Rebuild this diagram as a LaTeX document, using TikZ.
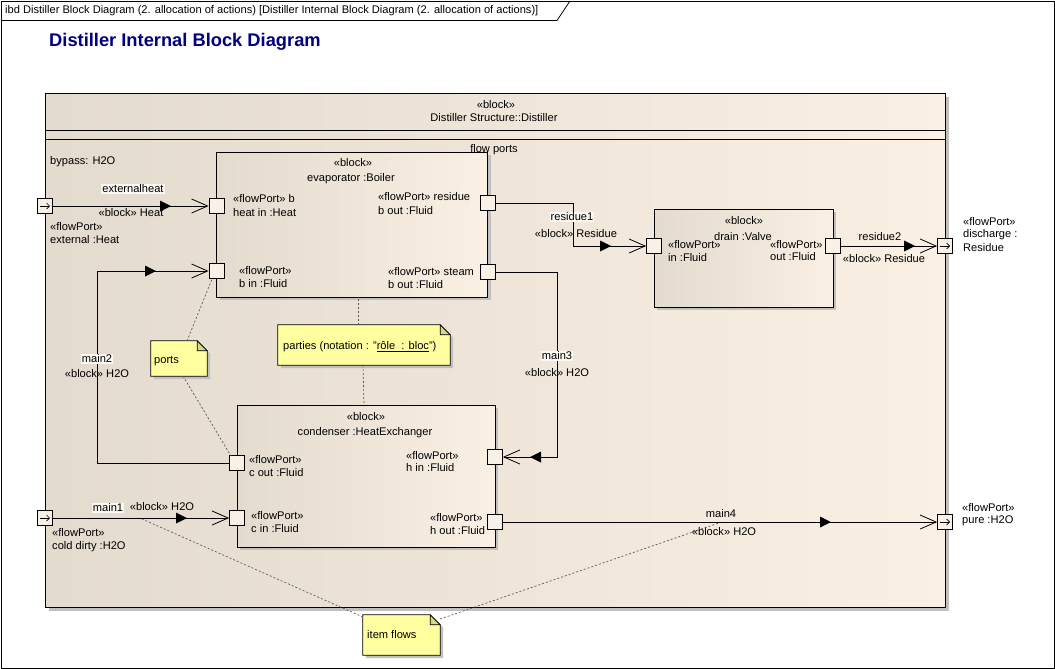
\documentclass[tikz,border=0pt]{standalone}
\usepackage{fontspec}
\setmainfont{Liberation Sans}
\usetikzlibrary{arrows.meta,calc}
\definecolor{blkL}{RGB}{227,219,206}
\definecolor{blkR}{RGB}{250,240,227}
\definecolor{shadowc}{RGB}{192,192,192}
\definecolor{portc}{RGB}{247,241,231}
\definecolor{notec}{RGB}{255,255,160}
\definecolor{foldc}{RGB}{214,214,140}
\definecolor{titlec}{RGB}{0,0,128}
\definecolor{lblbg}{RGB}{252,249,243}
\definecolor{dashc}{RGB}{90,90,90}
\begin{document}
\begin{tikzpicture}[x=1pt,y=-1pt,
  txt/.style={font=\fontsize{11.1}{12}\selectfont, inner sep=0pt, anchor=west},
  ctxt/.style={font=\fontsize{11.1}{12}\selectfont, inner sep=0pt},
  namelbl/.style={ctxt, fill=lblbg, inner sep=1pt},
  blockbox/.style={draw, line width=0.8pt, left color=blkL, right color=blkR, inner sep=0pt},
  port/.style={draw, fill=portc, minimum size=15pt, inner sep=0pt, line width=0.8pt},
  flow/.style={line width=0.8pt, -{Straight Barb[length=16pt,width=14pt]}},
  notelink/.style={dashc, line width=0.7pt, dash pattern=on 2pt off 2pt},
  notebox/.style={inner sep=0pt},
  fltri/.pic={\fill (-11,-5.5) -- (0,0) -- (-11,5.5) -- cycle;}
]
\useasboundingbox (0,0) rectangle (1055,669);
\fill[white] (0,0) rectangle (1055,669);
% frame and tab
\draw[line width=0.8pt] (1,1) rectangle (1054,668);
\draw[line width=0.8pt] (1,20.5) -- (557,20.5) -- (570,1);
\node[txt] (tab) at (5,11) {ibd Distiller Block Diagram (2. allocation of actions) [Distiller Internal Block Diagram (2. allocation of actions)]};
\node[anchor=west, inner sep=0pt, font=\fontsize{18.3}{20}\selectfont\bfseries, text=titlec] (title) at (49,42) {Distiller Internal Block Diagram};

% Distiller block
\fill[shadowc] (49,97) rectangle (949,611);
\node[blockbox, minimum width=900pt, minimum height=514pt] (distiller) at (495,350) {};
\draw[line width=0.8pt] (45,130) -- (945,130);
\draw[line width=0.8pt] (45,139) -- (945,139);
\node[ctxt] (dst1) at (496,105) {«block»};
\node[ctxt] (dst2) at (494,118) {Distiller Structure::Distiller};
\node[txt] (bypass) at (50,162) {bypass: H2O};

% Boiler
\fill[shadowc] (220,155) rectangle (491,300);
\node[blockbox, minimum width=271pt, minimum height=145pt] (boiler) at (352,224.5) {};
\node[ctxt] (flowports) at (494,150) {flow ports};
\node[ctxt] (boi1) at (353,163) {«block»};
\node[ctxt] (boi2) at (351,179) {evaporator :Boiler};
\node[txt] (t1) at (233,199) {«flowPort» b};
\node[txt] (t2) at (233,213) {heat in :Heat};
\node[txt] (t3) at (378,197) {«flowPort» residue};
\node[txt] (t4) at (378,211) {b out :Fluid};
\node[txt] (t5) at (239,271) {«flowPort»};
\node[txt] (t6) at (239,284) {b in :Fluid};
\node[txt] (t7) at (388,272) {«flowPort» steam};
\node[txt] (t8) at (388,285) {b out :Fluid};

% Valve
\fill[shadowc] (657,212) rectangle (836,310);
\node[blockbox, minimum width=179pt, minimum height=98pt] (valve) at (743.5,258) {};
\node[ctxt] (val1) at (744,221) {«block»};
\node[ctxt] (val2) at (743,237) {drain :Valve};
\node[txt] (t9) at (668,245) {«flowPort»};
\node[txt] (t10) at (668,258) {in :Fluid};
\node[txt] (t11) at (770,245) {«flowPort»};
\node[txt] (t12) at (770,257) {out :Fluid};

% Condenser
\fill[shadowc] (240,408) rectangle (498,550);
\node[blockbox, minimum width=258pt, minimum height=142pt] (condenser) at (366,476) {};
\node[ctxt] (con1) at (366,417) {«block»};
\node[ctxt] (con2) at (365,433) {condenser :HeatExchanger};
\node[txt] (t13) at (249,460) {«flowPort»};
\node[txt] (t14) at (249,473) {c out :Fluid};
\node[txt] (t15) at (251,516) {«flowPort»};
\node[txt] (t16) at (251,529) {c in :Fluid};
\node[txt] (t17) at (406,456) {«flowPort»};
\node[txt] (t18) at (406,468) {h in :Fluid};
\node[txt] (t19) at (430,518) {«flowPort»};
\node[txt] (t20) at (430,531) {h out :Fluid};

% outer port labels
\node[txt] (t21) at (50,227) {«flowPort»};
\node[txt] (t22) at (50,240) {external :Heat};
\node[txt] (t23) at (52,533) {«flowPort»};
\node[txt] (t24) at (52,547) {cold dirty :H2O};
\node[txt] (t25) at (963,222) {«flowPort»};
\node[txt] (t26) at (963,235) {discharge :};
\node[txt] (t27) at (963,248) {Residue};
\node[txt] (t28) at (962,508) {«flowPort»};
\node[txt] (t29) at (962,521) {pure :H2O};

% ports
\node[port] (pExt) at (45,206) {};
\node[port] (pCold) at (45,518) {};
\node[port] (pDis) at (945,246) {};
\node[port] (pPure) at (945,522) {};
\node[port] (pHeatIn) at (216.5,206) {};
\node[port] (pBin) at (216.5,271) {};
\node[port] (pRes) at (487.5,203) {};
\node[port] (pSteam) at (487.5,272) {};
\node[port] (pVin) at (654,246) {};
\node[port] (pVout) at (833,246) {};
\node[port] (pCout) at (237,463) {};
\node[port] (pCin) at (237,518) {};
\node[port] (pHin) at (495,457) {};
\node[port] (pHout) at (495,522) {};
\foreach \p in {pExt,pCold,pDis,pPure}
  \draw[line width=0.7pt, -{Straight Barb[length=3pt,width=6pt]}] (\p.center) ++(-5,0) -- ++(10,0);

% bend points
\coordinate (m2) at (97,271);
\coordinate (r1) at (573,246);
\coordinate (m3) at (557,457);

% item flows (connectors)
\draw[flow] (pExt.east) -- (pHeatIn.west);
\draw[flow] (pCout.west) -| (m2) -- (pBin.west);
\draw[flow] (pRes.east) -| (r1) -- (pVin.west);
\draw[flow] (pVout.east) -- (pDis.west);
\draw[flow] (pSteam.east) -| (m3) -- (pHin.east);
\draw[flow] (pCold.east) -- (pCin.west);
\draw[flow] (pHout.east) -- (pPure.west);
\pic at (171,206) {fltri};
\pic at (156,271) {fltri};
\pic at (611,246) {fltri};
\pic at (915,246) {fltri};
\pic[rotate=180] at (530,457) {fltri};
\pic at (187,518) {fltri};
\pic at (831,522) {fltri};

% flow labels
\node[namelbl] (lExt) at (133,189) {externalheat};
\node[ctxt] (lExt2) at (131,213) {«block» Heat};
\node[namelbl] (lM2) at (97,359) {main2};
\node[ctxt] (lM2b) at (97,374) {«block» H2O};
\node[namelbl] (lR1) at (572,217) {residue1};
\node[ctxt] (lR1b) at (576,234) {«block» Residue};
\node[ctxt] (lR2) at (880,237) {residue2};
\node[ctxt] (lR2b) at (884,259) {«block» Residue};
\node[namelbl] (lM3) at (557,356) {main3};
\node[ctxt] (lM3b) at (557,373) {«block» H2O};
\node[namelbl] (lM1) at (108,508) {main1};
\node[ctxt] (lM1b) at (162,507) {«block» H2O};
\node[ctxt] (lM4) at (721,514) {main4};
\node[ctxt] (lM4b) at (724,532) {«block» H2O};

% notes
\node[notebox, minimum width=56pt, minimum height=35pt] (nPorts) at (179,358.5) {};
\node[notebox, minimum width=172pt, minimum height=40pt] (nParts) at (364,345) {};
\node[notebox, minimum width=77pt, minimum height=40pt] (nItems) at (401.5,635) {};
\foreach \n in {nPorts,nParts,nItems}{
  \fill[shadowc] ($(\n.north west)+(3,3)$) -- ($(\n.north east)+(-7,3)$) -- ($(\n.north east)+(3,13)$) -- ($(\n.south east)+(3,3)$) -- ($(\n.south west)+(3,3)$) -- cycle;
  \draw[line width=0.8pt, fill=notec] (\n.north west) -- ($(\n.north east)+(-10,0)$) -- ($(\n.north east)+(0,10)$) -- (\n.south east) -- (\n.south west) -- cycle;
  \draw[line width=0.8pt, fill=foldc] ($(\n.north east)+(-10,0)$) -- ($(\n.north east)+(-10,10)$) -- ($(\n.north east)+(0,10)$) -- cycle;
}
\node[txt] (nPortsT) at (154,361) {ports};
\node[txt] (nPartsT) at (283,347) {parties (notation : "\underline{rôle\ \ : bloc}")};
\node[txt] (nItemsT) at (367,635) {item flows};

% note links
\coordinate (aP1) at (187,341);
\coordinate (aP2) at (183,376);
\coordinate (bBin) at (212,279);
\coordinate (bCout) at (231,456);
\coordinate (aQ1) at (358,325);
\coordinate (aQ2) at (363,365);
\coordinate (bBoil) at (358,298);
\coordinate (bCond) at (364,405);
\coordinate (aI1) at (363,617);
\coordinate (aI2) at (440,619);
\coordinate (bMain1) at (142,519);
\coordinate (bMain4) at (719,523);
\draw[notelink] (aP1) -- (bBin);
\draw[notelink] (aP2) -- (bCout);
\draw[notelink] (aQ1) -- (bBoil);
\draw[notelink] (aQ2) -- (bCond);
\draw[notelink] (aI1) -- (bMain1);
\draw[notelink] (aI2) -- (bMain4);
\end{tikzpicture}
\end{document}
